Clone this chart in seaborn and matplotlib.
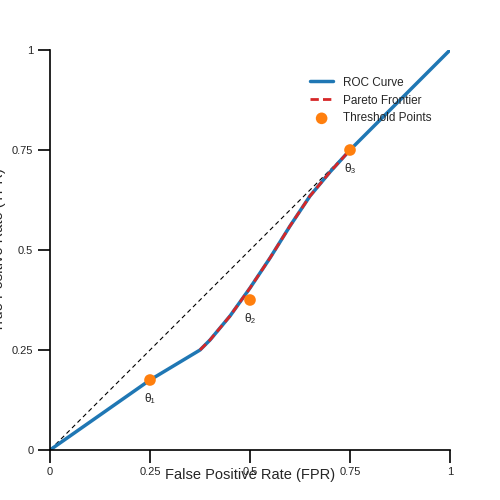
import matplotlib
matplotlib.use("Agg")
import matplotlib.pyplot as plt
import seaborn as sns

sns.set_style("white")
plt.rcParams['font.family'] = ['Liberation Sans', 'DejaVu Sans']

roc_fpr = [0, 0.25, 0.375, 0.4, 0.425, 0.45, 0.475, 0.5, 0.55, 0.6, 0.65, 0.7, 0.75, 0.875, 1.0]
roc_tpr = [0, 0.175, 0.25, 0.275, 0.305, 0.335, 0.37, 0.405, 0.48, 0.56, 0.635, 0.695, 0.75, 0.875, 1.0]
par_fpr = [0.375, 0.4, 0.425, 0.45, 0.475, 0.5, 0.55, 0.6, 0.65, 0.7, 0.75]
par_tpr = [0.25, 0.275, 0.305, 0.335, 0.37, 0.405, 0.48, 0.56, 0.635, 0.695, 0.75]
th_fpr = [0.25, 0.5, 0.75]
th_tpr = [0.175, 0.375, 0.75]
th_labels = ["θ₁", "θ₂", "θ₃"]
ticks = [0, 0.25, 0.5, 0.75, 1]
tick_labels = ["0", "0.25", "0.5", "0.75", "1"]

fig = plt.figure(figsize=(5, 5), dpi=100)
ax = fig.add_axes([0.1, 0.1, 0.8, 0.8])
ax.plot([0, 0.75], [0, 0.75], ls=(0, (4, 3)), color="black", lw=0.8)
sns.lineplot(x=roc_fpr, y=roc_tpr, ax=ax, color="#1f77b4", lw=2.5, label="ROC Curve", sort=False)
sns.lineplot(x=par_fpr, y=par_tpr, ax=ax, color="#d62728", lw=2, ls=(0, (3, 1.5)), label="Pareto Frontier", sort=False)
sns.scatterplot(x=th_fpr, y=th_tpr, ax=ax, color="#ff7f0e", s=70, edgecolor="none", label="Threshold Points", zorder=5)
for x, y, t in zip(th_fpr, th_tpr, th_labels):
    ax.annotate(t, (x, y), xytext=(0, -16), textcoords="offset points", ha="center", fontsize=8.5)
ax.set_xlim(0, 1)
ax.set_ylim(0, 1)
ax.set_xticks(ticks, tick_labels)
ax.set_yticks(ticks, tick_labels)
ax.tick_params(axis="both", which="both", direction="out", length=9, width=1.2, color="black", labelsize=8, pad=3,
               left=True, bottom=True)
for s in ["top", "right"]:
    ax.spines[s].set_visible(False)
for s in ["left", "bottom"]:
    ax.spines[s].set_color("black")
    ax.spines[s].set_linewidth(1.2)
ax.set_xlabel("False Positive Rate (FPR)", fontsize=10.5, labelpad=-6)
ax.set_ylabel("True Positive Rate (TPR)", fontsize=10.5, labelpad=4)
ax.legend(loc="upper right", bbox_to_anchor=(0.98, 0.96), frameon=False, fontsize=8.5, handlelength=2)
fig.savefig("out.png", dpi=100)
